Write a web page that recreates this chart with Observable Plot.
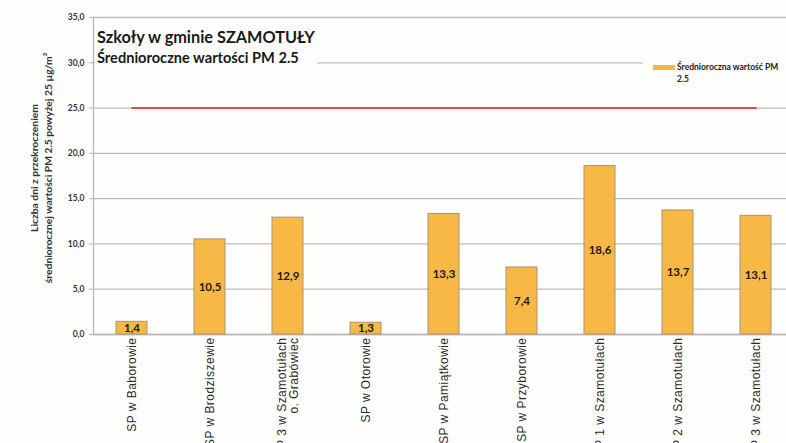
<!DOCTYPE html>
<html>
<head>
<meta charset="utf-8">
<script src="https://cdn.jsdelivr.net/npm/d3@7"></script>
<script src="https://cdn.jsdelivr.net/npm/@observablehq/plot@0.6"></script>
<style>
  html, body { margin: 0; padding: 0; background: #fefefc; overflow: hidden; }
  #wrap { position: relative; width: 786px; height: 443px; overflow: hidden; }
  #title { position: absolute; left: 95px; top: 22px; width: 222px; height: 46px; background: #fefefc;
           font-family: Lato, "Open Sans", sans-serif; font-weight: bold; color: #1a1a1a; }
  #title .t1 { position: absolute; left: 2px; top: 5px; font-size: 16.3px; white-space: nowrap; }
  #title .t2 { position: absolute; left: 2px; top: 27px; font-size: 14.6px; white-space: nowrap; }
  #legend { position: absolute; left: 643px; top: 56px; width: 150px; height: 32px; background: #fefefc;
            font-family: Lato, "Open Sans", sans-serif; font-weight: bold; font-size: 8.5px; color: #222; line-height: 12px; }
  #legend .sw { position: absolute; left: 10px; top: 9px; width: 22px; height: 5px; background: #f8b846; }
  #legend .tx { position: absolute; left: 34px; top: 5px; white-space: nowrap; }
  svg { position: absolute; left: 0; top: 0; }
  g[aria-label="x-axis tick label"] text { letter-spacing: 0.45px; }
</style>
</head>
<body>
<div id="wrap">
</div>
<script>
const schools = [
  "SP w Baborowie",
  "SP w Brodziszewie",
  "SP 3 w Szamotułach\no. Grabówiec",
  "SP w Otorowie",
  "SP w Pamiątkowie",
  "SP w Przyborowie",
  "SP 1 w Szamotułach",
  "SP 2 w Szamotułach",
  "SP 3 w Szamotułach"
];
const pm25 = [1.4, 10.5, 12.9, 1.3, 13.3, 7.4, 18.6, 13.7, 13.1];
const limit = 25;
const yTicks = [0, 5, 10, 15, 20, 25, 30, 35];
const titleText = "Szkoły w gminie SZAMOTUŁY";
const subtitleText = "Średnioroczne wartości PM 2.5";
const legendText = "Średnioroczna wartość PM\n2.5";
const yLabel = "Liczba dni z przekroczeniem\nśredniorocznej wartości PM 2.5 powyżej 25 µg/m³";

const data = schools.map((s, i) => ({school: s, value: pm25[i]}));
const fmt = v => v.toFixed(1).replace(".", ",");

const chart = Plot.plot({
  width: 786,
  height: 443,
  marginLeft: 93,
  marginRight: -9,
  marginTop: 17,
  marginBottom: 109,
  style: {background: "transparent", overflow: "visible"},
  x: {domain: schools, paddingInner: 0.6, paddingOuter: 0.3, label: null},
  y: {domain: [0, 35], label: null},
  marks: [
    Plot.gridY(yTicks, {stroke: "#c3bcbc", strokeOpacity: 1, strokeWidth: 1.3}),
    Plot.frame({anchor: "left", stroke: "#bdb6b6", strokeWidth: 1.3}),
    Plot.ruleY([0], {stroke: "#bdb6b6", strokeWidth: 1.3}),
    Plot.axisY(yTicks, {tickSize: 4, tickPadding: 5, tickFormat: fmt, fontSize: 8.5, fontWeight: "bold",
      fontFamily: "Lato, sans-serif", fill: "#333", stroke: "#bdb6b6", label: null}),
    Plot.axisX({tickSize: 0, tickRotate: -90, tickPadding: 3, fontSize: 12,
      fontFamily: "Liberation Sans, Arial, sans-serif", fill: "#2a2a2a", label: null}),
    Plot.barY(data, {x: "school", y: "value", fill: "#f8b846", stroke: "#a8947a", strokeWidth: 1}),
    Plot.text(data, {x: "school", y: d => d.value / 2, text: d => fmt(d.value), fontSize: 11.5,
      fontWeight: "bold", fontFamily: "Lato, sans-serif", fill: "#1a1a1a"}),
    Plot.line(schools, {x: d => d, y: () => limit, stroke: "#f04848", strokeWidth: 2}),
    Plot.text([yLabel], {frameAnchor: "left", textAnchor: "middle", rotate: -90, dx: -53, dy: -8,
      text: d => d, fontSize: 10.3,
      fontWeight: "bold", fontFamily: "Lato, sans-serif", fill: "#333", lineHeight: 1.4})
  ]
});

const wrap = document.getElementById("wrap");
wrap.appendChild(chart);

const title = document.createElement("div");
title.id = "title";
title.innerHTML = `<div class="t1"></div><div class="t2"></div>`;
title.querySelector(".t1").textContent = titleText;
title.querySelector(".t2").textContent = subtitleText;
wrap.appendChild(title);

const legend = document.createElement("div");
legend.id = "legend";
legend.innerHTML = `<div class="sw"></div><div class="tx"></div>`;
legend.querySelector(".tx").innerText = legendText;
wrap.appendChild(legend);
</script>
</body>
</html>
